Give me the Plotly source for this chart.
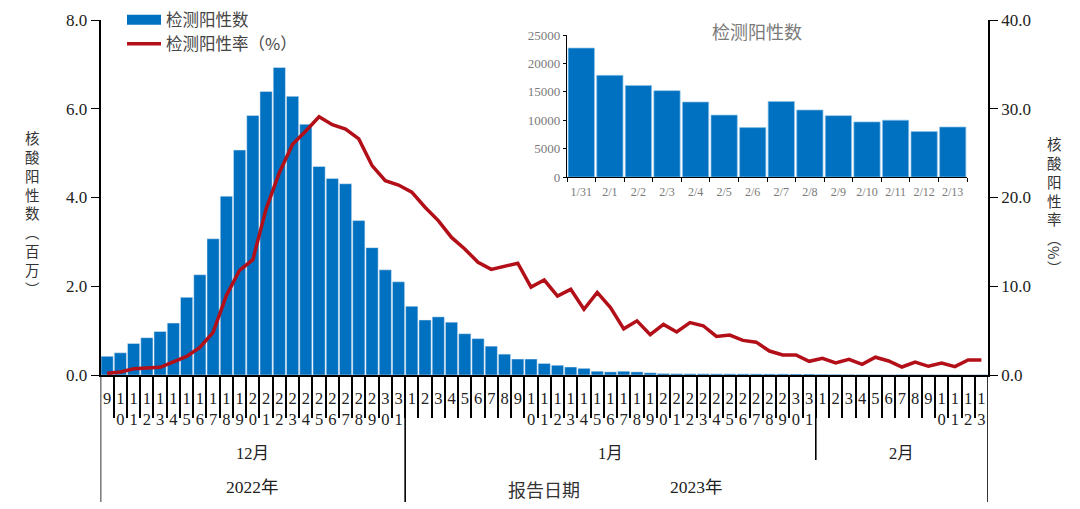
import plotly.graph_objects as go

# report dates, split by month
dec_days = list(range(9, 32))
jan_days = list(range(1, 32))
feb_days = list(range(1, 14))
days = dec_days + jan_days + feb_days

# positive count (millions)
positive_count = [
    0.42, 0.50, 0.71, 0.84, 0.98, 1.17, 1.75, 2.26, 3.07, 4.03, 5.07, 5.85, 6.39, 6.93, 6.28, 5.65, 4.70, 4.43, 4.31, 3.48, 2.87, 2.37, 2.10,
    1.55, 1.24, 1.31, 1.19, 0.93, 0.82, 0.65, 0.47, 0.36, 0.36, 0.26, 0.22, 0.18, 0.15, 0.085, 0.07, 0.085, 0.07, 0.05, 0.035, 0.03,
    0.028, 0.027, 0.026, 0.026, 0.025, 0.025, 0.024, 0.024, 0.023, 0.0227,
    0.0179, 0.0161, 0.0152, 0.0132, 0.0109, 0.0087, 0.0133, 0.0118, 0.0108, 0.0097, 0.0100, 0.0080, 0.0088,
]

# positive rate (%)
positive_rate = [
    0.19, 0.34, 0.71, 0.79, 0.86, 1.47, 2.1, 3.1, 4.8, 8.95, 11.8, 13.0, 18.7, 22.8, 26.0, 27.5, 29.1, 28.2, 27.7, 26.6, 23.6, 21.9, 21.4,
    20.6, 18.9, 17.4, 15.5, 14.2, 12.7, 11.9, 12.3, 12.6, 9.9, 10.7, 8.9, 9.65, 7.4, 9.3, 7.6, 5.2, 6.1, 4.55, 5.7, 4.85, 5.9, 5.55,
    4.35, 4.5, 3.9, 3.7, 2.7, 2.25, 2.25, 1.54,
    1.88, 1.35, 1.77, 1.2, 2.0, 1.58, 0.9, 1.46, 0.98, 1.35, 0.94, 1.69, 1.69,
]

# inset
inset_dates = ['1/31', '2/1', '2/2', '2/3', '2/4', '2/5', '2/6', '2/7', '2/8', '2/9', '2/10', '2/11', '2/12', '2/13']
inset_count = [22700, 17900, 16100, 15200, 13200, 10900, 8700, 13300, 11800, 10800, 9700, 10000, 8000, 8800]

BLUE = '#0070c0'
RED = '#b30f18'
GREY = '#7a7a7a'
SERIF = 'Liberation Serif'
CJK = 'Noto Sans CJK SC'
MIXED = 'Liberation Serif, Noto Sans CJK SC'
W, H = 1080, 509


def px(x):
    return x / W


def py(y):
    return 1 - y / H


x = list(range(len(days)))
x_range = [-0.5, len(days) - 0.5]
day_labels = ['<br>'.join(str(d)) for d in days]

fig = go.Figure()
fig.add_trace(go.Bar(x=x, y=positive_count, marker_color=BLUE, showlegend=False, xaxis='x', yaxis='y'))
# legend key for the bars, plotly's own bar swatch is a small square
fig.add_trace(go.Scatter(x=[None], y=[None], mode='lines', name='检测阳性数', line=dict(color=BLUE, width=12), xaxis='x', yaxis='y', legend='legend'))
fig.add_trace(go.Scatter(x=x, y=positive_rate, mode='lines', name='检测阳性率（%）', line=dict(color=RED, width=3.5), xaxis='x', yaxis='y2', legend='legend2'))
fig.add_trace(go.Bar(x=inset_dates, y=inset_count, marker=dict(color=BLUE, line=dict(color='#8cc3e8', width=0.7)), showlegend=False, xaxis='x2', yaxis='y3'))
# empty trace so the tick-only axis gets drawn
fig.add_trace(go.Scatter(x=[None], y=[None], showlegend=False, hoverinfo='skip', xaxis='x3', yaxis='y'))

axis_line = dict(showline=True, linecolor='black', linewidth=1.5, showgrid=False, zeroline=False, ticks='outside', tickcolor='black', automargin=False)
legend_base = dict(xanchor='left', yanchor='middle', itemwidth=34, bgcolor='rgba(0,0,0,0)', font=dict(family=CJK, size=16.5, color='#444444'))

fig.update_layout(
    width=W,
    height=H,
    margin=dict(l=0, r=0, t=0, b=0),
    paper_bgcolor='white',
    plot_bgcolor='rgba(0,0,0,0)',
    bargap=0.08,
    font=dict(family=SERIF, color='#222222'),
    legend=dict(x=px(122), y=py(20), **legend_base),
    legend2=dict(x=px(122), y=py(44), **legend_base),
    xaxis=dict(domain=[px(100.5), px(988)], range=x_range, anchor='y', tickmode='array', tickvals=x, ticktext=day_labels,
               showline=True, linecolor='black', linewidth=1.5, showgrid=False, zeroline=False, ticks='',
               ticklabelstandoff=7, tickangle=0, tickfont=dict(size=16.5), automargin=False),
    # second x axis only carries the long ticks between the days
    xaxis3=dict(overlaying='x', anchor='y', range=x_range, tickmode='array', tickvals=[i - 0.5 for i in x[1:]],
                showticklabels=False, showgrid=False, zeroline=False, ticks='outside', ticklen=42, tickwidth=1.5, tickcolor='black', automargin=False),
    yaxis=dict(domain=[py(375), py(20)], range=[0, 8], tickvals=[0, 2, 4, 6, 8], tickformat='.1f', ticklen=8,
               tickfont=dict(size=17), anchor='x', **axis_line),
    yaxis2=dict(overlaying='y', side='right', anchor='x', range=[0, 40], tickvals=[0, 10, 20, 30, 40], tickformat='.1f', ticklen=8,
                tickfont=dict(size=17), **axis_line),
    xaxis2=dict(domain=[px(567), px(967)], anchor='y3', type='category', tickfont=dict(size=12, color=GREY), ticklen=4, tickson='boundaries',
                ticklabelstandoff=3, showline=True, linecolor='black', linewidth=1.2, showgrid=False, zeroline=False, ticks='outside',
                tickcolor='black', tickangle=0, automargin=False),
    yaxis3=dict(domain=[py(177), py(35)], anchor='x2', range=[0, 25000], tickvals=[0, 5000, 10000, 15000, 20000, 25000], tickformat='d',
                tickfont=dict(size=13, color=GREY), ticklen=3, showline=True, linecolor='black', linewidth=1.2, showgrid=False,
                zeroline=False, ticks='outside', tickcolor='black', automargin=False),
)

# long separators below the axis: month and year boundaries, right hand frame
n_dec = len(dec_days)
n_jan = len(jan_days)
for pos, bottom in [(-0.5, 502), (n_dec - 0.5, 502), (n_dec + n_jan - 0.5, 460), (len(days) - 0.5, 502)]:
    fig.add_shape(type='line', xref='x', yref='paper', x0=pos, x1=pos, y0=py(375), y1=py(bottom), line=dict(color='black', width=1.6))


def note(x_pos, y_pos, text, size=16.5, family=MIXED, color='#222222', angle=0):
    fig.add_annotation(xref='paper', yref='paper', x=px(x_pos), y=py(y_pos), text=text, showarrow=False, textangle=angle,
                       xanchor='center', yanchor='middle', font=dict(family=family, size=size, color=color))


note(252, 453, '12月')
note(610, 453, '1月')
note(901, 453, '2月')
note(252, 487, '2022年', size=17.5)
note(696, 487, '2023年', size=17.5)
note(544, 491, '报告日期', size=18, color='#333333')
note(757, 31, '检测阳性数', size=18, family=CJK, color=GREY)

# vertical axis titles
note(32, 213, '<br>'.join('核酸阳性数︵百万︶'), size=14.5, family=CJK, color='#333333')
note(1054, 190, '<br>'.join('核酸阳性率︵'), size=14.5, family=CJK, color='#333333')
note(1054, 252, '%', size=14.5, family=CJK, color='#333333', angle=90)
note(1054, 267, '︶', size=14.5, family=CJK, color='#333333')

# body margin off so the figure sits at the window corner
fig.write_html("out.html", config=dict(displayModeBar=False), post_script="document.body.style.margin='0';")
